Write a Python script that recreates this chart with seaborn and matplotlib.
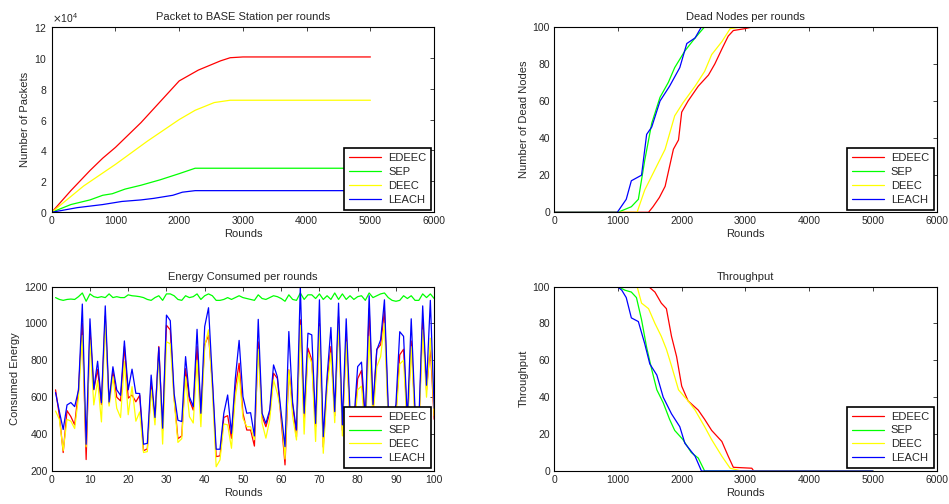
import numpy as np
import pandas as pd
import matplotlib
matplotlib.use("Agg")
import matplotlib.pyplot as plt
from matplotlib.ticker import ScalarFormatter
import seaborn as sns

protocols = ['EDEEC', 'SEP', 'DEEC', 'LEACH']
colors = {'EDEEC': '#ff0000', 'SEP': '#00ff00', 'DEEC': '#ffff00', 'LEACH': '#0000ff'}

# packets to base station (breakpoints)
pk_edeec_x = [0, 300, 600, 800, 1000, 1400, 1800, 2000, 2300, 2650, 2800, 3000, 5000]
pk_edeec_y = [0, 14000, 27000, 35000, 42000, 58000, 76000, 85000, 92000, 98000, 100000, 100500, 100500]
pk_sep_x = [0, 300, 600, 800, 950, 1150, 1400, 1700, 2000, 2250, 5000]
pk_sep_y = [0, 5000, 8000, 11000, 12000, 15000, 17500, 21000, 25000, 28500, 28500]
pk_deec_x = [0, 500, 1000, 1500, 2000, 2250, 2550, 2800, 5000]
pk_deec_y = [0, 17000, 31000, 46000, 60000, 66000, 71000, 72500, 72500]
pk_leach_x = [0, 400, 800, 1100, 1400, 1600, 1900, 2050, 2250, 5000]
pk_leach_y = [0, 3000, 5000, 7000, 8000, 9000, 11000, 13000, 14000, 14000]

# dead nodes
dn_edeec_x = [0, 1480, 1550, 1650, 1740, 1870, 1950, 2000, 2100, 2260, 2420, 2520, 2630, 2730, 2810, 2990, 3120, 5000]
dn_edeec_y = [0, 0, 3, 8, 14, 34, 39, 54, 60, 68, 74, 80, 88, 95, 98, 99, 100, 100]
dn_sep_x = [0, 1000, 1210, 1320, 1420, 1530, 1660, 1790, 1890, 2050, 2210, 2360, 5000]
dn_sep_y = [0, 0, 3, 7, 28, 48, 62, 70, 78, 87, 94, 100, 100]
dn_deec_x = [0, 1300, 1420, 1580, 1740, 1890, 2020, 2210, 2360, 2470, 2630, 2760, 2940, 5000]
dn_deec_y = [0, 0, 12, 23, 34, 52, 59, 68, 76, 85, 92, 99, 100, 100]
dn_leach_x = [0, 990, 1130, 1210, 1370, 1450, 1530, 1660, 1810, 1970, 2080, 2210, 2310, 5000]
dn_leach_y = [0, 0, 7, 17, 20, 42, 46, 60, 68, 78, 91, 94, 100, 100]

# throughput
tp_edeec_x = [0, 1480, 1580, 1680, 1760, 1840, 1920, 2000, 2100, 2260, 2360, 2470, 2630, 2730, 2810, 3100, 3130, 5000]
tp_edeec_y = [100, 100, 97, 91, 88, 73, 62, 46, 38, 33, 28, 22, 16, 8, 2, 1.5, 0, 0]
tp_sep_x = [0, 1000, 1110, 1210, 1290, 1370, 1450, 1530, 1610, 1710, 1810, 1890, 2020, 2150, 2260, 2360, 5000]
tp_sep_y = [100, 100, 98, 97, 94, 82, 67, 55, 44, 37, 28, 22, 17, 10, 7, 0, 0]
tp_deec_x = [0, 1300, 1370, 1480, 1580, 1680, 1760, 1840, 1950, 2100, 2210, 2360, 2470, 2630, 2760, 2940, 5000]
tp_deec_y = [100, 100, 91, 88, 80, 73, 66, 57, 44, 38, 33, 24, 17, 8, 1.5, 0, 0]
tp_leach_x = [0, 990, 1060, 1130, 1210, 1320, 1420, 1500, 1610, 1710, 1840, 1970, 2050, 2210, 2310, 5000]
tp_leach_y = [100, 100, 98, 94, 83, 81, 69, 58, 52, 40, 31, 24, 15, 8, 0, 0]

# energy consumed, rounds 1..100
rounds = list(range(1, 101))
en_edeec = [640, 500, 300, 527, 495, 450, 640, 1000, 262, 965, 640, 750, 560, 1040, 565, 740, 600, 580, 875, 595,
            612, 575, 610, 310, 320, 670, 480, 875, 420, 990, 965, 600, 375, 390, 755, 585, 530, 875, 505, 885,
            935, 680, 278, 282, 490, 500, 377, 650, 784, 513, 422, 422, 335, 900, 495, 440, 513, 730, 702, 477,
            233, 748, 560, 386, 1020, 480, 866, 802, 440, 1000, 330, 680, 875, 500, 1037, 420, 930, 480, 430, 700,
            745, 440, 1080, 520, 860, 884, 1070, 500, 450, 520, 830, 860, 450, 905, 500, 440, 1020, 640, 870, 480]
en_sep = [1140, 1130, 1125, 1130, 1132, 1130, 1145, 1165, 1120, 1160, 1145, 1140, 1145, 1140, 1160, 1140, 1145, 1140, 1140, 1155,
          1150, 1148, 1145, 1140, 1130, 1125, 1140, 1150, 1125, 1160, 1160, 1150, 1130, 1125, 1150, 1140, 1145, 1160, 1130, 1150,
          1160, 1150, 1125, 1125, 1130, 1140, 1130, 1140, 1150, 1140, 1135, 1130, 1125, 1155, 1135, 1130, 1140, 1150, 1145, 1135,
          1120, 1155, 1130, 1125, 1165, 1130, 1155, 1155, 1135, 1160, 1130, 1150, 1130, 1165, 1130, 1160, 1130, 1150, 1130, 1145,
          1150, 1125, 1165, 1140, 1150, 1160, 1165, 1140, 1125, 1120, 1125, 1150, 1135, 1150, 1125, 1125, 1160, 1140, 1160, 1135]
en_deec = [525, 480, 310, 480, 470, 430, 600, 935, 331, 910, 558, 690, 466, 1010, 552, 712, 540, 490, 793, 505,
           657, 470, 520, 300, 305, 640, 450, 830, 346, 900, 890, 585, 355, 375, 710, 495, 460, 800, 440, 875,
           965, 640, 223, 260, 455, 450, 323, 600, 730, 486, 440, 440, 370, 860, 460, 378, 477, 693, 621, 513,
           265, 748, 495, 368, 990, 400, 840, 784, 360, 982, 296, 640, 840, 462, 1000, 390, 900, 450, 400, 640,
           660, 400, 930, 480, 766, 820, 1000, 460, 420, 480, 780, 800, 420, 874, 460, 420, 965, 600, 920, 500]
en_leach = [625, 522, 425, 558, 571, 549, 638, 1105, 345, 1025, 643, 795, 570, 1095, 574, 765, 640, 610, 905, 640,
            752, 621, 620, 345, 350, 720, 490, 870, 432, 1045, 1015, 620, 475, 468, 820, 603, 549, 968, 513, 983,
            1085, 700, 318, 318, 513, 612, 404, 700, 908, 603, 513, 516, 390, 1022, 513, 458, 531, 775, 711, 513,
            332, 956, 567, 422, 1200, 513, 947, 938, 458, 1128, 386, 711, 978, 522, 1110, 450, 1025, 520, 470, 766,
            790, 480, 1150, 560, 856, 911, 1128, 540, 480, 560, 955, 930, 480, 1025, 530, 470, 1095, 665, 1125, 540]


def long_df(series):
    frames = []
    for name, (xs, ys) in zip(protocols, series):
        frames.append(pd.DataFrame({'x': xs, 'y': ys, 'Protocol': name}))
    return pd.concat(frames, ignore_index=True)


sns.set_style("white")
plt.rcParams['font.family'] = ['Liberation Sans', 'DejaVu Sans']

fig = plt.figure(figsize=(9.49, 5.04), dpi=100)
ax_pk = fig.add_axes([0.0545, 0.5788, 0.403, 0.368])
ax_dn = fig.add_axes([0.584, 0.5788, 0.403, 0.368])
ax_en = fig.add_axes([0.0545, 0.0655, 0.403, 0.366])
ax_tp = fig.add_axes([0.584, 0.0655, 0.403, 0.366])

panels = [
    (ax_pk, [(pk_edeec_x, pk_edeec_y), (pk_sep_x, pk_sep_y), (pk_deec_x, pk_deec_y), (pk_leach_x, pk_leach_y)],
     'Packet to BASE Station per rounds', 'Number of Packets'),
    (ax_dn, [(dn_edeec_x, dn_edeec_y), (dn_sep_x, dn_sep_y), (dn_deec_x, dn_deec_y), (dn_leach_x, dn_leach_y)],
     'Dead Nodes per rounds', 'Number of Dead Nodes'),
    (ax_en, [(rounds, en_edeec), (rounds, en_sep), (rounds, en_deec), (rounds, en_leach)],
     'Energy Consumed per rounds', 'Consumed Energy'),
    (ax_tp, [(tp_edeec_x, tp_edeec_y), (tp_sep_x, tp_sep_y), (tp_deec_x, tp_deec_y), (tp_leach_x, tp_leach_y)],
     'Throughput', 'Throughput'),
]

for ax, series, title, ylabel in panels:
    df = long_df(series)
    sns.lineplot(data=df, x='x', y='y', hue='Protocol', hue_order=protocols, palette=colors,
                 estimator=None, sort=False, linewidth=0.9, ax=ax)
    ax.set_title(title, fontsize=8, pad=5)
    ax.set_xlabel('Rounds', fontsize=8, labelpad=2)
    ax.set_ylabel(ylabel, fontsize=8, labelpad=3)
    ax.tick_params(direction='in', top=True, right=True, length=3, width=0.6, labelsize=7.5, pad=3)
    for sp in ax.spines.values():
        sp.set_visible(True)
        sp.set_color('black')
        sp.set_linewidth(0.8)
    handles, labels = ax.get_legend_handles_labels()
    leg = ax.legend(handles, labels, loc='lower right', fontsize=8, frameon=True, fancybox=False,
                    framealpha=1, edgecolor='black', handlelength=2.9, handletextpad=0.6,
                    labelspacing=0.35, borderpad=0.45, borderaxespad=0.25)
    leg.get_frame().set_linewidth(1.2)
    for line in leg.get_lines():
        line.set_linewidth(0.9)

ax_pk.set_xlim(0, 6000)
ax_pk.set_ylim(0, 120000)
ax_pk.set_xticks(np.arange(0, 6001, 1000))
ax_pk.set_yticks(np.arange(0, 120001, 20000))
fmt = ScalarFormatter(useMathText=True)
fmt.set_powerlimits((4, 4))
ax_pk.yaxis.set_major_formatter(fmt)
ax_pk.yaxis.get_offset_text().set_fontsize(7.5)

for ax in (ax_dn, ax_tp):
    ax.set_xlim(0, 6000)
    ax.set_ylim(0, 100)
    ax.set_xticks(np.arange(0, 6001, 1000))
    ax.set_yticks(np.arange(0, 101, 20))

ax_en.set_xlim(0, 100)
ax_en.set_ylim(200, 1200)
ax_en.set_xticks(np.arange(0, 101, 10))
ax_en.set_yticks(np.arange(200, 1201, 200))

fig.savefig('out.png', dpi=100)
